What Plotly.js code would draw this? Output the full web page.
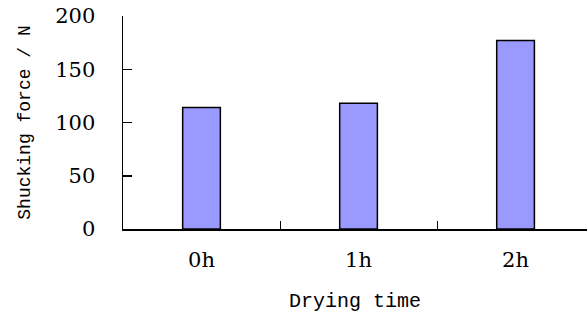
<!DOCTYPE html>
<html>
<head>
<meta charset="utf-8">
<script src="https://cdn.plot.ly/plotly-3.0.1.min.js"></script>
<style>html,body{margin:0;padding:0;overflow:hidden;background:#fff;}</style>
</head>
<body>
<div id="chart" style="width:587px;height:313px;"></div>
<script>
const categories = ["0h", "1h", "2h"];
const forceValues = [114, 118, 177];
const yTickValues = [0, 50, 100, 150, 200];

const TITLE_FONT = "Liberation Mono, Courier New, monospace";
const TICK_FONT = "DejaVu Serif, Liberation Serif, serif";

const trace = {
  type: "bar",
  x: categories,
  y: forceValues,
  width: 0.24,
  marker: { color: "#9999FF", line: { color: "#000000", width: 1.5 } },
  hoverinfo: "x+y"
};

const layout = {
  width: 587,
  height: 313,
  margin: { l: 123, r: 0, t: 16, b: 84 },
  paper_bgcolor: "#ffffff",
  plot_bgcolor: "#ffffff",
  showlegend: false,
  font: { family: TITLE_FONT, color: "#000000" },
  xaxis: {
    type: "category",
    range: [-0.5, 2.455],
    showline: true,
    linecolor: "#000000",
    linewidth: 1.5,
    ticks: "inside",
    ticklen: 8,
    tickwidth: 1,
    tickcolor: "#000000",
    tickson: "boundaries",
    showgrid: false,
    zeroline: false,
    tickfont: { family: TICK_FONT, size: 21, color: "#000000" },
    ticklabelstandoff: 11,
    title: { text: "Drying time", font: { family: TITLE_FONT, size: 20, color: "#000000" }, standoff: 22 }
  },
  yaxis: {
    range: [0, 200],
    tickvals: yTickValues,
    ticktext: yTickValues.map(String),
    showline: true,
    linecolor: "#000000",
    linewidth: 1.5,
    ticks: "inside",
    ticklen: 9,
    tickwidth: 1.5,
    tickcolor: "#000000",
    showgrid: false,
    zeroline: false,
    tickfont: { family: TICK_FONT, size: 21, color: "#000000" },
    ticklabelstandoff: 22,
    title: { text: "Shucking force / N", font: { family: TITLE_FONT, size: 18, color: "#000000" }, standoff: 20 }
  }
};

Plotly.newPlot("chart", [trace], layout, { displayModeBar: false, staticPlot: true });
</script>
</body>
</html>
